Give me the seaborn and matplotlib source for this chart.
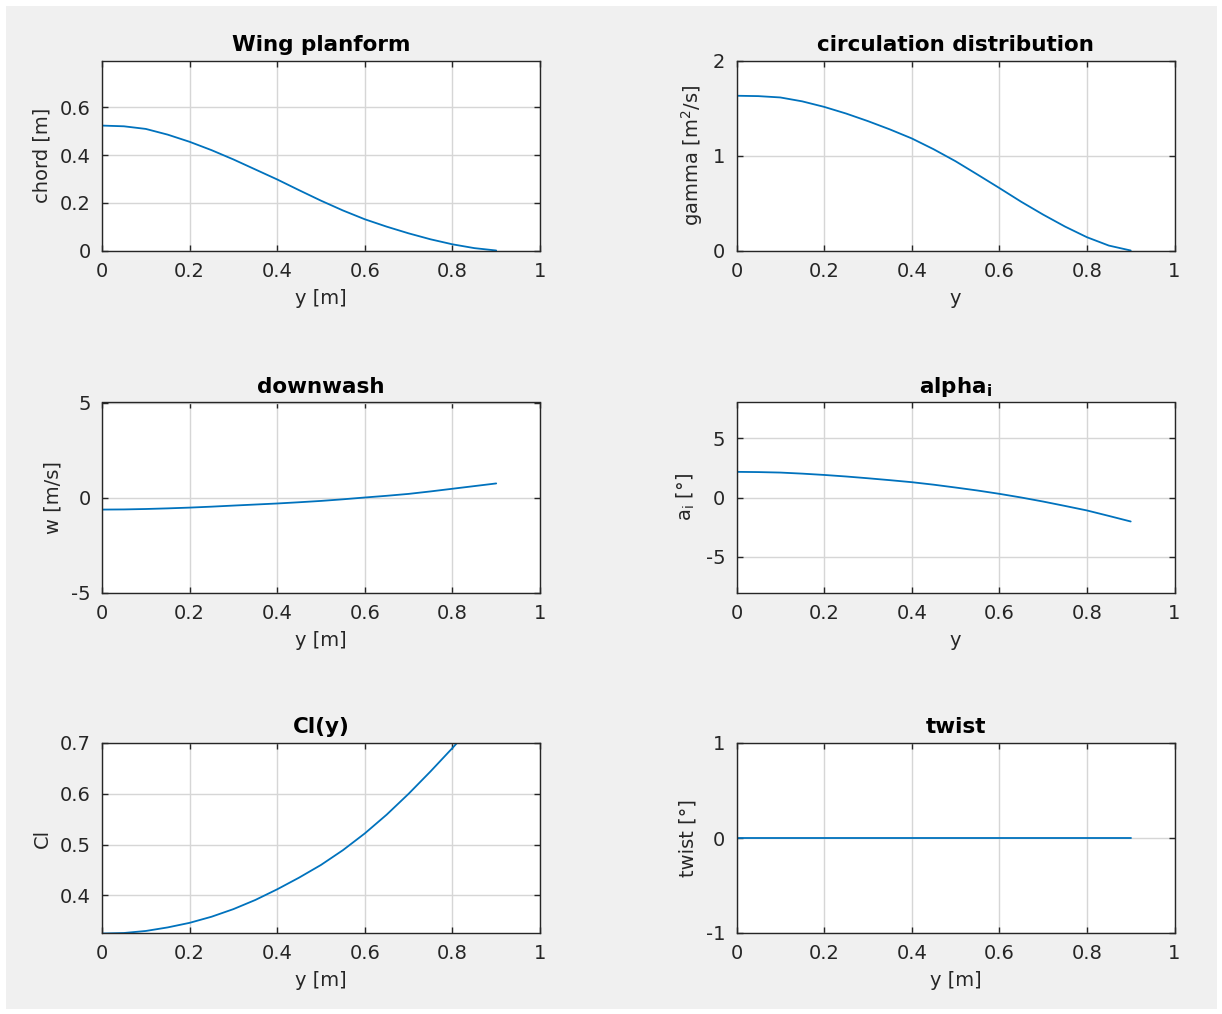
import numpy as np
import pandas as pd
import matplotlib
matplotlib.use("Agg")
import matplotlib.pyplot as plt
import seaborn as sns
from matplotlib.patches import Rectangle
from matplotlib.ticker import FuncFormatter

# ---- data ----
span = [0.0, 0.05, 0.10, 0.15, 0.20, 0.25, 0.30, 0.35, 0.40, 0.45,
        0.50, 0.55, 0.60, 0.65, 0.70, 0.75, 0.80, 0.85, 0.90]
chord = [0.524, 0.521, 0.510, 0.486, 0.456, 0.421, 0.382, 0.340, 0.298, 0.253,
         0.209, 0.168, 0.131, 0.100, 0.072, 0.047, 0.026, 0.010, 0.0]
gamma = [1.629, 1.625, 1.611, 1.570, 1.512, 1.442, 1.362, 1.275, 1.180, 1.066,
         0.940, 0.800, 0.658, 0.513, 0.378, 0.252, 0.140, 0.052, 0.0]
downwash = [-0.636, -0.628, -0.605, -0.572, -0.532, -0.482, -0.425, -0.370, -0.315, -0.250,
            -0.180, -0.095, 0.0, 0.090, 0.190, 0.320, 0.460, 0.600, 0.740]
alpha_i = [2.16, 2.14, 2.10, 2.01, 1.90, 1.77, 1.62, 1.46, 1.29, 1.08,
           0.84, 0.59, 0.31, 0.0, -0.34, -0.71, -1.09, -1.55, -2.02]
cl = [0.325, 0.326, 0.330, 0.337, 0.346, 0.358, 0.373, 0.391, 0.412, 0.435,
      0.460, 0.489, 0.522, 0.559, 0.600, 0.644, 0.690, 0.738, 0.788]
twist = [0.0] * 19

x_ticks = [0, 0.2, 0.4, 0.6, 0.8, 1]

panels = [
    dict(vals=chord, title="Wing planform", xlabel="y [m]", ylabel="chord [m]",
         ylim=(0, 0.797), yticks=[0, 0.2, 0.4, 0.6]),
    dict(vals=gamma, title="circulation distribution", xlabel="y",
         ylabel="gamma [m$^\\mathregular{2}$/s]", ylim=(0, 2), yticks=[0, 1, 2]),
    dict(vals=downwash, title="downwash", xlabel="y [m]", ylabel="w [m/s]",
         ylim=(-5, 5), yticks=[-5, 0, 5]),
    dict(vals=alpha_i, title="alpha$_\\mathregular{i}$", xlabel="y",
         ylabel="a$_\\mathregular{i}$ [°]", ylim=(-8, 8), yticks=[-5, 0, 5]),
    dict(vals=cl, title="Cl(y)", xlabel="y [m]", ylabel="Cl",
         ylim=(0.326, 0.7), yticks=[0.4, 0.5, 0.6, 0.7]),
    dict(vals=twist, title="twist", xlabel="y [m]", ylabel="twist [°]",
         ylim=(-1, 1), yticks=[-1, 0, 1]),
]

sns.set_theme(style="ticks")
plt.rcParams["font.family"] = ["DejaVu Sans"]
plt.rcParams["mathtext.fontset"] = "dejavusans"

W, H = 1222, 1014
fig = plt.figure(figsize=(W / 100, H / 100), dpi=100, facecolor="white")
fig.patches.append(Rectangle((6 / W, 5 / H), (1217 - 6) / W, (1008 - 5) / H,
                             transform=fig.transFigure, facecolor="#f0f0f0",
                             edgecolor="none", zorder=-10))

lefts = [102 / W, 736.5 / W]
width = 438 / W
tops = [60.5, 402.5, 743]
height_px = 190

txt = "#262626"
for i, p in enumerate(panels):
    r, c = divmod(i, 2)
    bottom = 1 - (tops[r] + height_px) / H
    ax = fig.add_axes([lefts[c], bottom, width, height_px / H])
    ax.set_facecolor("white")
    df = pd.DataFrame({"y": span, "v": p["vals"]})
    sns.lineplot(data=df, x="y", y="v", ax=ax, color="#0072BD", linewidth=1.3)
    ax.set_xlim(0, 1)
    ax.set_ylim(*p["ylim"])
    ax.set_xticks(x_ticks)
    ax.set_yticks(p["yticks"])
    fmt = FuncFormatter(lambda v, pos: f"{v:g}")
    ax.xaxis.set_major_formatter(fmt)
    ax.yaxis.set_major_formatter(fmt)
    ax.grid(True, color="#d6d6d6", linewidth=1.0)
    ax.set_axisbelow(True)
    for s in ax.spines.values():
        s.set_visible(True)
        s.set_color("#262626")
        s.set_linewidth(1.0)
    ax.tick_params(direction="in", length=4, width=1.0, colors="#262626",
                   labelcolor=txt, labelsize=14, top=True, right=True, pad=8)
    ax.set_title(p["title"], fontsize=15.5, fontweight="bold", color="black", pad=7)
    ax.set_xlabel(p["xlabel"], fontsize=14, color=txt, labelpad=6)
    ax.set_ylabel(p["ylabel"], fontsize=14, color=txt, labelpad=6)

fig.savefig("out.png", dpi=100, facecolor="white")
